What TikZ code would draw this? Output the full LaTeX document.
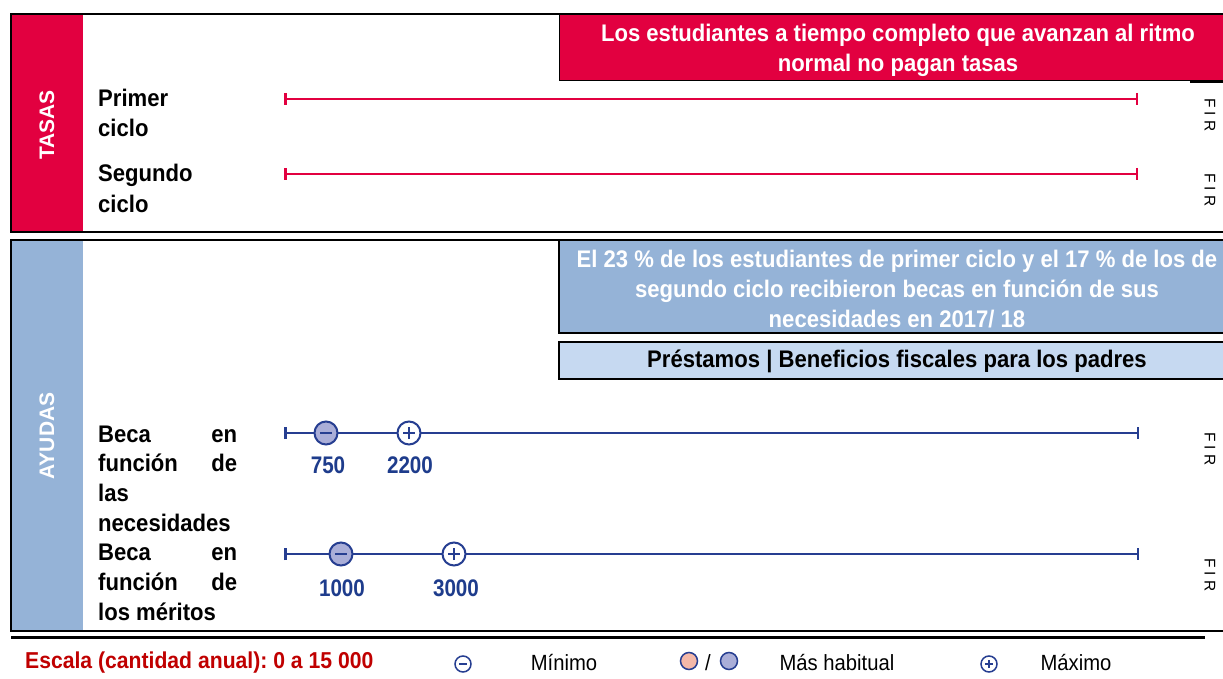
\documentclass[tikz,border=0pt]{standalone}
\usepackage{fontspec}
\setmainfont{Liberation Sans}
\newfontfamily\numfont[FakeStretch=0.86]{Liberation Sans}
\newfontfamily\hfont[FakeStretch=0.92]{Liberation Sans}
\usetikzlibrary{arrows.meta}
\frenchspacing
\definecolor{tred}{RGB}{226,0,64}
\definecolor{sideblue}{RGB}{149,179,215}
\definecolor{lightbox}{RGB}{198,217,241}
\definecolor{lblue}{RGB}{38,62,145}
\definecolor{numblue}{RGB}{30,60,140}
\definecolor{lav}{RGB}{170,174,216}
\definecolor{pinkc}{RGB}{244,184,168}
\definecolor{legred}{RGB}{192,0,0}
\tikzset{
  hdr/.style={font=\hfont\bfseries\fontsize{24}{30}\selectfont, align=center, inner sep=0pt},
  lbl/.style={font=\hfont\bfseries\fontsize{24}{30}\selectfont, anchor=base west, inner sep=0pt},
  fir/.style={font=\fontsize{15.5}{15.5}\selectfont, rotate=-90, inner sep=0pt},
  side/.style={font=\fontsize{21}{21}\selectfont\bfseries, text=white, rotate=90, inner sep=0pt},
  num/.style={font=\numfont\bfseries\fontsize{24}{24}\selectfont, text=numblue, inner sep=0pt},
  mk/.style={circle, draw=lblue, line width=2pt, minimum size=23pt, inner sep=0pt},
  minmk/.style={mk, fill=lav, path picture={\draw[lblue,line width=2.2pt] ([xshift=-6pt]path picture bounding box.center) -- ([xshift=6pt]path picture bounding box.center);}},
  maxmk/.style={mk, fill=white, path picture={\draw[lblue,line width=2.2pt] ([xshift=-6pt]path picture bounding box.center) -- ([xshift=6pt]path picture bounding box.center) ([yshift=-6pt]path picture bounding box.center) -- ([yshift=6pt]path picture bounding box.center);}},
  legmk/.style={circle, draw=lblue, line width=1.5pt, minimum size=16pt, inner sep=0pt, fill=white},
  legmin/.style={legmk, path picture={\draw[lblue,line width=1.5pt] ([xshift=-4pt]path picture bounding box.center) -- ([xshift=4pt]path picture bounding box.center);}},
  legmax/.style={legmk, path picture={\draw[lblue,line width=1.5pt] ([xshift=-4pt]path picture bounding box.center) -- ([xshift=4pt]path picture bounding box.center) ([yshift=-4pt]path picture bounding box.center) -- ([yshift=4pt]path picture bounding box.center);}},
  legdot/.style={circle, draw=lblue, line width=1.5pt, minimum size=17pt, inner sep=0pt},
  legtxt/.style={font=\hfont\fontsize{22}{22}\selectfont, inner sep=0pt},
  redline/.style={draw=tred, line width=2.5pt, {Bar[width=12pt,line width=2.5pt]}-{Bar[width=12pt,line width=2.5pt]}},
  blueline/.style={draw=lblue, line width=2.5pt, {Bar[width=12pt,line width=2.5pt]}-{Bar[width=12pt,line width=2.5pt]}},
  frame/.style={draw=black, line width=2.5pt}
}
\begin{document}
\begin{tikzpicture}[x=1pt,y=-1pt]
\useasboundingbox (0,0) rectangle (1223,679);
\fill[white] (0,0) rectangle (1223,679);

% ---------- TASAS ----------
\fill[tred] (12,15) rectangle (83,231);
\fill[tred] (559,14) rectangle (1226,81);
\draw[black, line width=1pt] (559,14) -- (559,81) -- (1226,81);
\draw[black, line width=2pt] (1190,82) -- (1226,82);
\draw[frame] (1230,14) -- (11,14) -- (11,232) -- (1230,232);
\node[side] (tasas) at (47,125) {TASAS};
\node[hdr, text=white] (tasashdr) at (898,50) {Los estudiantes a tiempo completo que avanzan al ritmo\\normal no pagan tasas};

\node[lbl] (p1) at (98,107) {Primer};
\node[lbl] (p2) at (98,137) {ciclo};
\node[lbl] (s1) at (98,182) {Segundo};
\node[lbl] (s2) at (98,212) {ciclo};

\coordinate (r1a) at (284,99);
\coordinate (r1b) at (1138,99);
\coordinate (r2a) at (284,174);
\coordinate (r2b) at (1138,174);
\draw[redline] (r1a) -- (r1b);
\draw[redline] (r2a) -- (r2b);
\node[fir] (f1) at (1210,115) {F I R};
\node[fir] (f2) at (1210,190) {F I R};

% ---------- AYUDAS ----------
\fill[sideblue] (12,241) rectangle (83,630);
\fill[sideblue] (559,241) rectangle (1226,333);
\draw[black, line width=2pt] (559,241) -- (559,333) -- (1226,333);
\filldraw[fill=lightbox, draw=black, line width=2pt] (559,342) rectangle (1226,379);
\draw[frame] (1230,240) -- (11,240) -- (11,631) -- (1230,631);
\node[side] (ayudas) at (47,436) {AYUDAS};
\node[hdr, text=white] (ayhdr) at (897,289) {El 23 \% de los estudiantes de primer ciclo y el 17 \% de los de\\segundo ciclo recibieron becas en función de sus\\necesidades en 2017/ 18};
\node[hdr] (prest) at (897,361) {Préstamos | Beneficios fiscales para los padres};

\node[lbl] (b1) at (98,442) {\hbox to 139pt{Beca\hfill en}};
\node[lbl] (b2) at (98,471.7) {\hbox to 139pt{función\hfill de}};
\node[lbl] (b3) at (98,501.4) {las};
\node[lbl] (b4) at (98,531.1) {necesidades};
\node[lbl] (m1) at (98,560.8) {\hbox to 139pt{Beca\hfill en}};
\node[lbl] (m2) at (98,590.5) {\hbox to 139pt{función\hfill de}};
\node[lbl] (m3) at (98,620.2) {los méritos};

\coordinate (n1a) at (284,433);
\coordinate (n1b) at (1139,433);
\coordinate (n2a) at (284,554);
\coordinate (n2b) at (1139,554);
\draw[blueline] (n1a) -- (n1b);
\draw[blueline] (n2a) -- (n2b);
\node[minmk] (c1) at (326,433) {};
\node[maxmk] (c2) at (409,433) {};
\node[minmk] (c3) at (341,554) {};
\node[maxmk] (c4) at (454,554) {};
\node[num] (v1) at (328,465) {750};
\node[num] (v2) at (410,465) {2200};
\node[num] (v3) at (342,588) {1000};
\node[num] (v4) at (456,588) {3000};
\node[fir] (f3) at (1210,449) {F I R};
\node[fir] (f4) at (1210,575) {F I R};

% ---------- legend ----------
\draw[black, line width=3pt] (11,637) -- (1205,637);
\node[legtxt, font=\hfont\bfseries\fontsize{23}{23}\selectfont, text=legred, anchor=west] (esc) at (25,663) {Escala (cantidad anual): 0 a 15 000};
\node[legmin] (lmin) at (463,664) {};
\node[legtxt] (tmin) at (564,663) {Mínimo};
\node[legdot, fill=pinkc] (lp) at (689,661) {};
\node[legtxt] (slash) at (708,663) {/};
\node[legdot, fill=lav] (ll) at (729,661) {};
\node[legtxt] (thab) at (837,663) {Más habitual};
\node[legmax] (lmax) at (989,664) {};
\node[legtxt] (tmax) at (1076,663) {Máximo};
\end{tikzpicture}
\end{document}
